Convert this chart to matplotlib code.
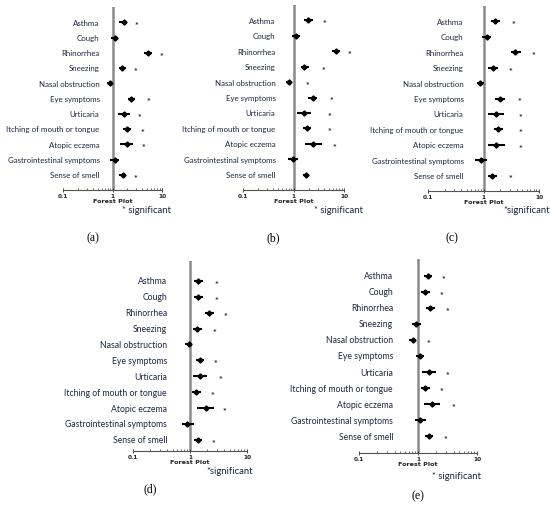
import matplotlib.pyplot as plt
from matplotlib.transforms import offset_copy

symptoms = ["Asthma", "Cough", "Rhinorrhea", "Sneezing", "Nasal obstruction",
            "Eye symptoms", "Urticaria", "Itching of mouth or tongue",
            "Atopic eczema", "Gastrointestinal symptoms", "Sense of smell"]

# (a)
or_a = [1.67, 1.13, 5.2, 1.59, 0.87, 2.38, 1.72, 1.92, 1.95, 1.13, 1.62]
lo_a = [1.38, 0.94, 4.4, 1.36, 0.78, 2.07, 1.28, 1.62, 1.45, 0.91, 1.38]
hi_a = [2.0, 1.32, 6.3, 1.89, 0.97, 2.87, 2.27, 2.35, 2.65, 1.38, 1.89]
sig_a = [3.1, None, 9.8, 2.9, None, 5.4, 3.57, 4.04, 4.2, None, 2.9]

# (b)
or_b = [1.93, 1.11, 6.9, 1.65, 0.80, 2.39, 1.63, 1.84, 2.46, 0.97, 1.76]
lo_b = [1.58, 0.93, 5.7, 1.40, 0.70, 1.96, 1.18, 1.56, 1.70, 0.77, 1.51]
hi_b = [2.39, 1.34, 8.3, 1.99, 0.90, 2.9, 2.18, 2.24, 3.66, 1.24, 2.05]
sig_b = [4.06, None, 12.7, 3.88, 1.93, 5.6, 5.1, 5.1, 6.5, None, None]

# (c)
or_c = [1.63, 1.15, 3.74, 1.49, 0.88, 2.0, 1.67, 1.81, 1.65, 0.91, 1.43]
lo_c = [1.34, 0.95, 3.07, 1.23, 0.77, 1.62, 1.23, 1.52, 1.2, 0.71, 1.23]
hi_c = [1.97, 1.38, 4.66, 1.82, 1.04, 2.4, 2.33, 2.2, 2.4, 1.16, 1.72]
sig_c = [3.53, None, 7.9, 3.07, None, 4.4, 4.6, 4.6, 4.6, None, 3.07]

# (d)
or_d = [1.36, 1.36, 2.14, 1.31, 0.95, 1.49, 1.51, 1.26, 1.88, 0.90, 1.36]
lo_d = [1.17, 1.17, 1.85, 1.11, 0.83, 1.26, 1.14, 1.08, 1.34, 0.73, 1.17]
hi_d = [1.71, 1.66, 2.59, 1.64, 1.1, 1.78, 1.98, 1.56, 2.62, 1.17, 1.62]
sig_d = [2.96, 2.96, 4.13, 2.69, None, 2.77, 3.43, 2.49, 4.02, None, 2.55]

# (e)
or_e = [1.46, 1.31, 1.62, 0.94, 0.81, 1.08, 1.54, 1.31, 1.71, 1.10, 1.52]
lo_e = [1.25, 1.11, 1.39, 0.80, 0.70, 0.92, 1.18, 1.11, 1.26, 0.89, 1.32]
hi_e = [1.75, 1.58, 1.92, 1.11, 0.91, 1.28, 1.99, 1.58, 2.36, 1.39, 1.78]
sig_e = [2.73, 2.49, 3.19, None, 1.50, None, 3.19, 2.49, 3.98, None, 2.87]

W, H = 550, 510
fig = plt.figure(figsize=(5.5, 5.1), dpi=100)
LAB = ["Lato", "DejaVu Sans"]
TXT = "#1c2640"


def forest(box, ylim, gap, fs, orr, lo, hi, sig, sig_txt, sig_xy, name, name_xy):
    x0, x1, top, bottom = box
    ax = fig.add_axes([x0 / W, 1 - bottom / H, (x1 - x0) / W, (bottom - top) / H])
    ax.set_xscale("log")
    ax.set_xlim(0.1, 10)
    ax.set_ylim(*ylim)
    rows = list(range(len(symptoms)))

    ax.axvline(1, color="#8a8a8a", lw=1.8, zorder=1)
    ax.hlines(rows, lo, hi, color="black", lw=1.5, zorder=2)
    ax.plot(orr, rows, "D", color="black", ms=2.6, zorder=3)

    # labels right-aligned a few pixels left of the no-effect line
    tr = offset_copy(ax.transData, fig=fig, x=-gap, y=0, units="dots")
    for i, s in enumerate(symptoms):
        ax.text(1, i, s, transform=tr, ha="right", va="center",
                fontsize=fs, family=LAB, color=TXT)

    for i, s in enumerate(sig):
        if s is not None:
            ax.text(s, i + 0.22, "*", ha="center", va="center", fontsize=6.5,
                    family=LAB, color="#202838", fontweight="bold", clip_on=False)

    for sp in ["top", "right", "left"]:
        ax.spines[sp].set_visible(False)
    ax.spines["bottom"].set_color("#555555")
    ax.spines["bottom"].set_linewidth(0.8)
    ax.set_yticks([])
    ax.set_xticks([0.1, 1, 10])
    ax.set_xticklabels(["0.1", "1", "10"])
    ax.tick_params(axis="x", which="major", direction="inout", length=3,
                   width=0.6, labelsize=4.2, pad=0.5, colors="#222222")
    ax.tick_params(axis="x", which="minor", direction="in", length=1.8,
                   width=0.6, colors="#555555")
    for t in ax.get_xticklabels():
        t.set_fontweight("bold")
    ax.set_xlabel("Forest Plot", fontsize=4.6, fontweight="bold", labelpad=0,
                  color="#222222")

    fig.text(sig_xy[0] / W, 1 - sig_xy[1] / H, sig_txt, ha="center",
             va="center", fontsize=6.8, family=LAB, color=TXT)
    fig.text(name_xy[0] / W, 1 - name_xy[1] / H, name, ha="center",
             va="center", fontsize=8.5, family="Liberation Serif")


forest((63, 162, 8, 191), (11, -1), 13, 5.7, or_a, lo_a, hi_a, sig_a,
       "* significant", (147, 211), "(a)", (93, 238))
forest((243, 344, 6, 191), (11, -1), 18, 5.7, or_b, lo_b, hi_b, sig_b,
       "* significant", (338, 211), "(b)", (273, 238))
forest((428, 539, 7, 192), (11, -1), 20, 5.7, or_c, lo_c, hi_c, sig_c,
       "*significant", (527, 211), "(c)", (452, 238))
forest((133, 247, 262, 452), (10.7, -1.25), 23, 6.2, or_d, lo_d, hi_d, sig_d,
       "*significant", (230, 471), "(d)", (150, 489))
forest((359, 477, 260, 454), (11.06, -1.06), 25, 6.2, or_e, lo_e, hi_e, sig_e,
       "* significant", (457, 477), "(e)", (418, 496))

fig.savefig("out.png", dpi=100)
